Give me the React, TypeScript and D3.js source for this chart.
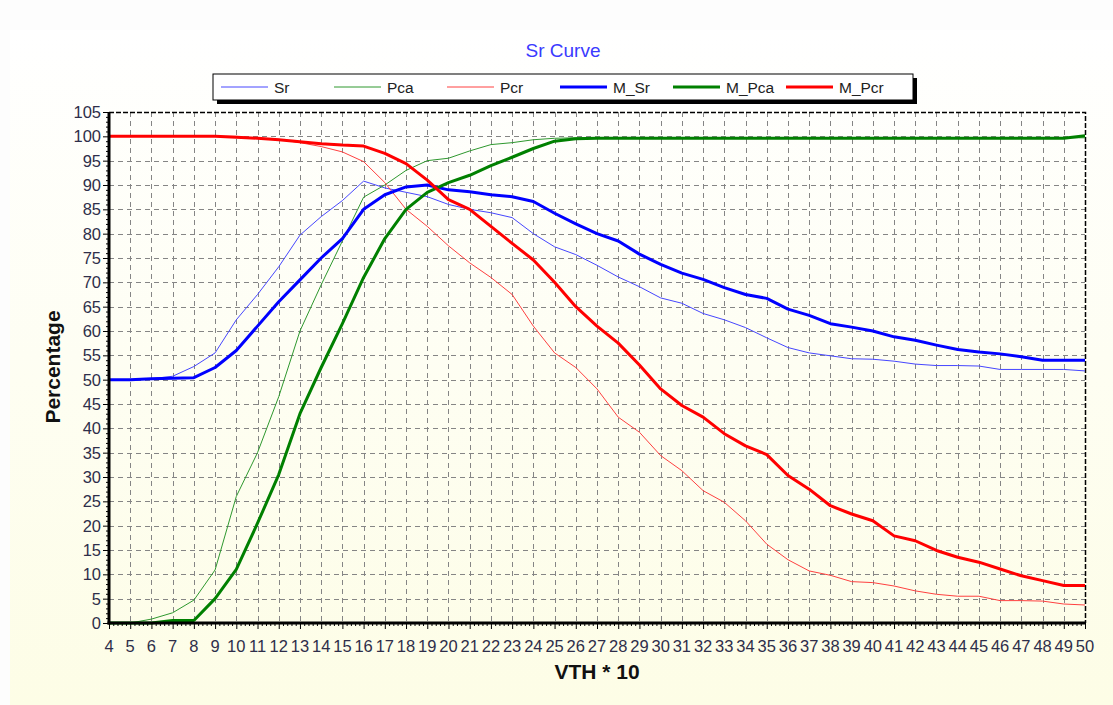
import * as d3 from 'd3'
import React, { useEffect, useRef } from 'react'

const vth = [4, 5, 6, 7, 8, 9, 10, 11, 12, 13, 14, 15, 16, 17, 18, 19, 20, 21, 22, 23, 24, 25, 26, 27,
  28, 29, 30, 31, 32, 33, 34, 35, 36, 37, 38, 39, 40, 41, 42, 43, 44, 45, 46, 47, 48, 49, 50]

const sr = [50, 50, 50.2, 50.7, 52.7, 55.5, 62.3, 67.5, 73.2, 79.7, 83.5, 86.8, 90.8, 89.4, 88.5, 87.6,
  86, 85, 84.3, 83.3, 80, 77.3, 75.7, 73.5, 71.1, 69.1, 66.8, 65.7, 63.6, 62.3, 60.7, 58.6, 56.6, 55.5,
  54.9, 54.3, 54.2, 53.8, 53.2, 52.9, 52.9, 52.8, 52.1, 52.1, 52.1, 52.1, 51.8]

const pca = [0, 0, 0.8, 2.1, 4.7, 10.9, 26, 35, 46.5, 60, 69.5, 78.5, 87.5, 90, 93, 95, 95.5, 97, 98.3,
  98.7, 99.3, 99.6, 99.7, 99.7, 99.7, 99.7, 99.7, 99.7, 99.7, 99.7, 99.7, 99.7, 99.7, 99.7, 99.7, 99.7,
  99.7, 99.7, 99.7, 99.7, 99.7, 99.7, 99.7, 99.7, 99.7, 99.7, 99.7]

const pcr = [100, 100, 100, 100, 100, 100, 100, 99.6, 99.4, 98.7, 97.9, 96.8, 94.8, 90.5, 85, 81.5,
  77.5, 74, 71, 67.5, 61, 55.5, 52.5, 48.1, 42.3, 39.2, 34.4, 31.3, 27.2, 24.8, 21, 16.2, 13, 10.7, 9.8,
  8.5, 8.3, 7.6, 6.6, 5.9, 5.5, 5.5, 4.6, 4.6, 4.5, 3.9, 3.7]

const mSr = [50, 50, 50.2, 50.3, 50.4, 52.5, 56, 61, 66, 70.5, 75, 79, 85, 88, 89.6, 90, 89, 88.6, 88,
  87.6, 86.6, 84.2, 82, 80, 78.5, 75.8, 73.7, 71.9, 70.6, 68.9, 67.5, 66.7, 64.5, 63.2, 61.5, 60.8, 60,
  58.8, 58.1, 57.1, 56.2, 55.7, 55.3, 54.7, 54, 54, 54]

const mPca = [0, 0, 0, 0.5, 0.5, 5, 11, 20.5, 30.5, 43, 52.5, 61.5, 71, 79, 85, 88.5, 90.5, 92, 94, 95.7,
  97.5, 99, 99.5, 99.6, 99.6, 99.6, 99.6, 99.6, 99.6, 99.6, 99.6, 99.6, 99.6, 99.6, 99.6, 99.6, 99.6,
  99.6, 99.6, 99.6, 99.6, 99.6, 99.6, 99.6, 99.6, 99.6, 100.1]

const mPcr = [100, 100, 100, 100, 100, 100, 99.8, 99.6, 99.3, 98.9, 98.5, 98.2, 98, 96.5, 94.4, 91, 87,
  85, 81.5, 78, 74.6, 70, 65, 61, 57.5, 53, 48.1, 44.7, 42.3, 38.9, 36.4, 34.6, 30.3, 27.5, 24.1, 22.4,
  21, 17.9, 16.9, 14.9, 13.5, 12.5, 11.1, 9.7, 8.7, 7.7, 7.7]

const yTicks = [0, 5, 10, 15, 20, 25, 30, 35, 40, 45, 50, 55, 60, 65, 70, 75, 80, 85, 90, 95, 100, 105]

const series = [
  { name: 'Sr', values: sr, color: '#4646ff', width: 1 },
  { name: 'Pca', values: pca, color: '#2e982e', width: 1 },
  { name: 'Pcr', values: pcr, color: '#ff4040', width: 1 },
  { name: 'M_Sr', values: mSr, color: '#0000ff', width: 3 },
  { name: 'M_Pca', values: mPca, color: '#008000', width: 3 },
  { name: 'M_Pcr', values: mPcr, color: '#ff0000', width: 3 },
]

const W = 1113
const H = 705
const left = 109
const right = 1085
const top = 112
const bottom = 623
const font = 'Liberation Sans, Arial, sans-serif'

export default function App() {
  const ref = useRef<SVGSVGElement>(null)

  useEffect(() => {
    const svg = d3.select(ref.current)
    svg.selectAll('*').remove()

    const x = d3.scaleLinear().domain([4, 50]).range([left, right])
    const y = d3.scaleLinear().domain([0, 105]).range([bottom, top])

    const defs = svg.append('defs')
    const grad = defs.append('linearGradient')
      .attr('id', 'bg').attr('x1', 0).attr('y1', 0).attr('x2', 0).attr('y2', 1)
    grad.append('stop').attr('offset', '0%').attr('stop-color', '#ffffff')
    grad.append('stop').attr('offset', '100%').attr('stop-color', '#fdfde6')

    svg.append('rect').attr('width', W).attr('height', H).attr('fill', '#fdfdfd')
    svg.append('rect').attr('x', 10).attr('y', 30).attr('width', W - 10).attr('height', H - 30)
      .attr('fill', 'url(#bg)')

    // title
    svg.append('text')
      .attr('x', 563).attr('y', 57)
      .attr('text-anchor', 'middle')
      .style('font-family', font).style('font-size', '19px')
      .attr('fill', '#3a3aff')
      .text('Sr Curve')

    // legend
    const lg = svg.append('g')
    lg.append('rect').attr('x', 217).attr('y', 78).attr('width', 700).attr('height', 26).attr('fill', '#000')
    lg.append('rect').attr('x', 213).attr('y', 74).attr('width', 700).attr('height', 26)
      .attr('fill', '#fff').attr('stroke', '#000').attr('stroke-width', 1)
    series.forEach((s, i) => {
      const lx = 221 + i * 113
      lg.append('line')
        .attr('x1', lx).attr('x2', lx + 47).attr('y1', 87).attr('y2', 87)
        .attr('stroke', s.color).attr('stroke-width', s.width)
      lg.append('text')
        .attr('x', lx + 53).attr('y', 93)
        .style('font-family', font).style('font-size', '15.5px')
        .attr('fill', '#222')
        .text(s.name)
    })

    // grid
    const grid = svg.append('g')
      .attr('stroke', '#858585').attr('stroke-width', 1).attr('stroke-dasharray', '5,4')
    grid.selectAll('line.v')
      .data(vth.slice(1, -1))
      .enter().append('line')
      .attr('x1', d => Math.round(x(d)) + 0.5).attr('x2', d => Math.round(x(d)) + 0.5)
      .attr('y1', top).attr('y2', bottom)
    grid.selectAll('line.h')
      .data(yTicks.slice(1, -1))
      .enter().append('line')
      .attr('x1', left).attr('x2', right)
      .attr('y1', d => Math.round(y(d)) + 0.5).attr('y2', d => Math.round(y(d)) + 0.5)

    // frame top / right dashed
    svg.append('path')
      .attr('d', `M${left},${top + 0.5}H${right + 0.5}V${bottom}`)
      .attr('fill', 'none').attr('stroke', '#000').attr('stroke-width', 1.5)
      .attr('stroke-dasharray', '5,2')

    // lines
    const line = d3.line<number>()
      .x((d, i) => x(vth[i]))
      .y(d => y(d))

    const plot = svg.append('g')
    series.forEach(s => {
      plot.append('path')
        .attr('d', line(s.values))
        .attr('fill', 'none')
        .attr('stroke', s.color)
        .attr('stroke-width', s.width)
        .attr('stroke-linejoin', 'round')
    })

    // y axis
    const yAxis = d3.axisLeft(y)
      .tickValues(d3.range(0, 106, 1))
      .tickSize(3)
      .tickFormat(() => '')
    const ya = svg.append('g').attr('transform', `translate(${left},0)`).call(yAxis)
    ya.select('.domain').remove()
    ya.selectAll('.tick line').attr('stroke', '#000')
    ya.selectAll('.tick')
      .filter((d: any) => d % 5 === 0)
      .select('line').attr('x2', -6)
    svg.append('g')
      .selectAll('text')
      .data(yTicks)
      .enter().append('text')
      .attr('x', 101).attr('y', d => y(d))
      .attr('dy', '0.36em')
      .attr('text-anchor', 'end')
      .style('font-family', font).style('font-size', '16.5px')
      .attr('fill', '#2e2e4a')
      .text(d => d)

    // x axis
    const xAxis = d3.axisBottom(x)
      .tickValues(d3.range(4, 50.01, 0.2))
      .tickSize(3)
      .tickFormat(() => '')
    const xa = svg.append('g').attr('transform', `translate(0,${bottom})`).call(xAxis)
    xa.select('.domain').remove()
    xa.selectAll('.tick line').attr('stroke', '#000')
    xa.selectAll('.tick')
      .filter((d: any) => Math.abs(d - Math.round(d)) < 0.01)
      .select('line').attr('y2', 6)
    svg.append('g')
      .selectAll('text')
      .data(vth)
      .enter().append('text')
      .attr('x', d => x(d)).attr('y', 652)
      .attr('text-anchor', 'middle')
      .style('font-family', font).style('font-size', '16.5px')
      .attr('fill', '#2e2e4a')
      .text(d => d)

    // axis lines
    svg.append('line')
      .attr('x1', left).attr('x2', left).attr('y1', top).attr('y2', bottom + 1.5)
      .attr('stroke', '#000').attr('stroke-width', 3)
    svg.append('line')
      .attr('x1', left - 1.5).attr('x2', right + 1).attr('y1', bottom).attr('y2', bottom)
      .attr('stroke', '#000').attr('stroke-width', 3)

    // axis titles
    svg.append('text')
      .attr('x', 597).attr('y', 679)
      .attr('text-anchor', 'middle')
      .style('font-family', font).style('font-size', '21px').style('font-weight', 'bold')
      .attr('fill', '#111')
      .text('VTH * 10')
    svg.append('text')
      .attr('transform', 'translate(60,367) rotate(-90)')
      .attr('text-anchor', 'middle')
      .style('font-family', font).style('font-size', '21px').style('font-weight', 'bold')
      .attr('fill', '#111')
      .text('Percentage')
  }, [])

  return (
    <svg ref={ref} width={W} height={H}
      style={{ position: 'absolute', left: 0, top: 0, display: 'block' }} />
  )
}
